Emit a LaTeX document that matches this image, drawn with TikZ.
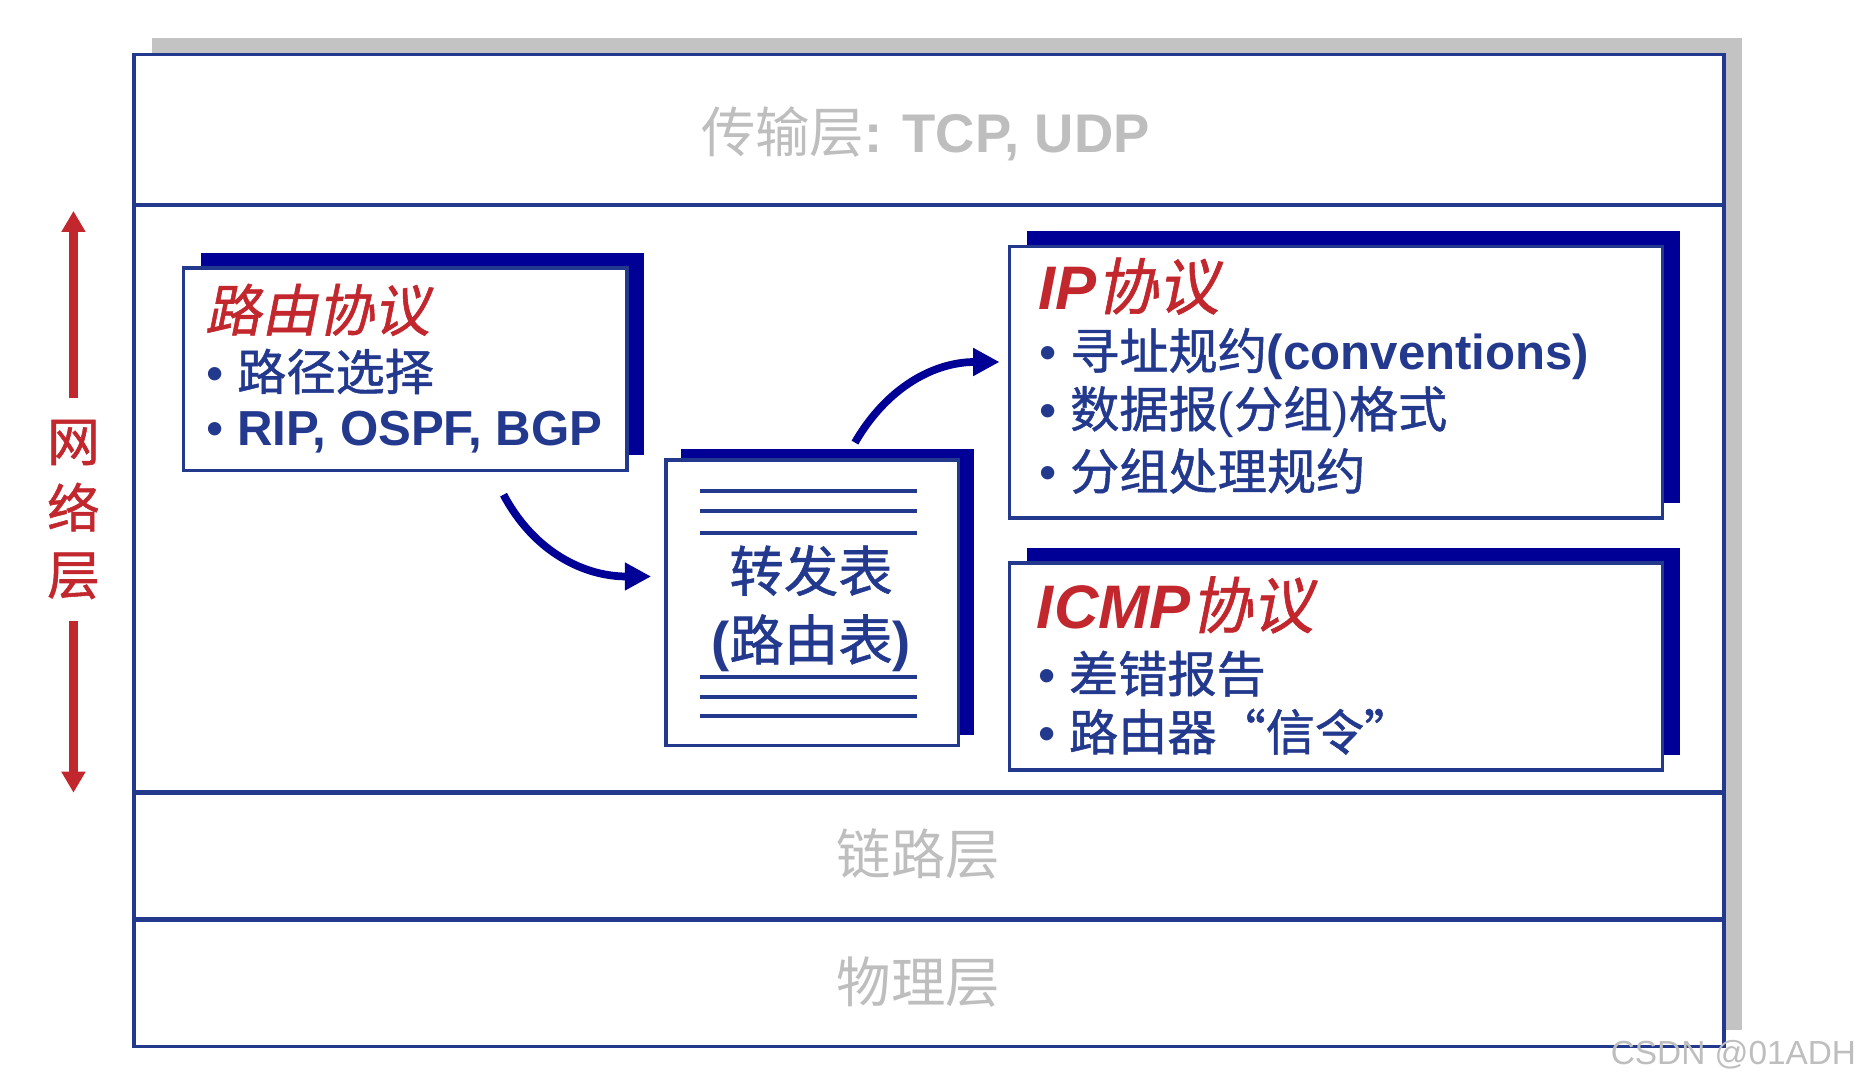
\documentclass[tikz,border=0pt]{standalone}
\usepackage{fontspec}
\setmainfont{Liberation Sans}
\newfontfamily\zh{Noto Sans CJK SC}[FakeBold=1]
\newfontfamily\zhlight{Noto Sans CJK SC}
\newfontfamily\zhit{Noto Sans CJK SC}[FakeSlant=0.2,FakeBold=1]
\usetikzlibrary{arrows.meta,calc,fit,positioning,shadows}
\definecolor{NetNavy}{HTML}{000096}
\definecolor{NetBlue}{HTML}{22398E}
\definecolor{NetRed}{HTML}{C1272D}
\definecolor{NetGray}{HTML}{BEBEBE}
\definecolor{NetShade}{HTML}{C3C3C3}

\begin{document}
\begin{tikzpicture}[
    x=0.01185cm,y=-0.01185cm,
    >={Triangle[width=7.5pt,length=7.5pt]},
    stack/.style={draw=NetBlue,line width=1pt,fill=white,inner sep=0pt,
      drop shadow={shadow xshift=0.178cm,shadow yshift=0.166cm,fill=NetShade,opacity=1}},
    sepline/.style={draw=NetBlue,line width=1.4pt},
    layertxt/.style={font=\fontsize{15.5}{18}\selectfont,text=NetGray},
    card/.style={draw=NetBlue,line width=1pt,fill=white,inner sep=0pt,
      drop shadow={shadow xshift=0.172cm,shadow yshift=0.152cm,fill=NetNavy,opacity=1}},
    sheet/.style={draw=NetBlue,line width=1pt,fill=white,inner sep=0pt,
      drop shadow={shadow xshift=0.154cm,shadow yshift=0.104cm,fill=NetNavy,opacity=1}},
    tabrule/.style={draw=NetBlue,line width=1.2pt},
    boxhead/.style={font=\fontsize{#1}{#1}\selectfont,text=NetRed,inner sep=0pt,anchor=west},
    boxhead/.default=16,
    entry/.style={font=\fontsize{14}{17}\selectfont,text=NetBlue,inner sep=0pt,anchor=west},
    flow/.style={->,line width=2.2pt,draw=NetNavy},
    netarrow/.style={-{Triangle[width=6.5pt,length=6pt]},line width=2.3pt,draw=NetRed},
    netlbl/.style={font=\zh\fontsize{15}{19}\selectfont,text=NetRed,align=center,inner xsep=0pt,inner ysep=6pt},
    wmark/.style={font=\fontsize{9.5}{11}\selectfont,text=NetGray,inner sep=0pt,anchor=east}
  ]
  \useasboundingbox (0,0) rectangle (1568,919);

  % protocol stack
  \node[stack,fit={(113,46) (1455,883)}] (stack) {};
  \draw[sepline] (stack.west |- 0,173) -- (stack.east |- 0,173);
  \draw[sepline] (stack.west |- 0,669) -- (stack.east |- 0,669);
  \draw[sepline] (stack.west |- 0,776) -- (stack.east |- 0,776);
  \node[layertxt] (transport) at (781,113) {{\zhlight 传输层}\textbf{: TCP, UDP}};
  \node[layertxt] (link) at (775,721) {\zhlight 链路层};
  \node[layertxt] (phys) at (775,829) {\zhlight 物理层};

  % network layer marker
  \node[netlbl] (netlabel) at (62,430) {网\\络\\层};
  \coordinate (nettop) at (62,178);
  \coordinate (netbot) at (62,669);
  \draw[netarrow] (netlabel) -- (nettop);
  \draw[netarrow] (netlabel) -- (netbot);

  % routing protocols
  \node[card,fit={(155,226) (529,397)}] (route) {};
  \node[boxhead] (routehead) at ($(route.north west)+(19,37)$) {\zhit 路由协议};
  \node[entry] (routeA) at ($(route.north west)+(20,89)$) {• {\zh 路径选择}};
  \node[entry] (routeB) at ($(route.north west)+(20,140)$) {• \textbf{RIP, OSPF, BGP}};

  % forwarding table
  \node[sheet,fit={(562,388) (809,629)}] (ftable) {};
  \foreach \dy in {28,45,63,185,202,218}
    \draw[tabrule] ($(ftable.north west)+(30,\dy)$) -- ++(183,0);
  \node[entry,anchor=center,align=center,font=\fontsize{15.5}{19.6}\selectfont] (ftext)
    at ($(ftable.center)+(-1,5)$) {{\zh 转发表}\\\textbf{(}{\zh 路由表}\textbf{)}};

  % IP protocol
  \node[card,fit={(852,208) (1403,437)}] (ipbox) {};
  \node[boxhead=17.5] (iphead) at ($(ipbox.north west)+(25,35)$) {\textbf{\textit{IP}}{\zhit 协议}};
  \node[entry] (ipA) at ($(ipbox.north west)+(26,92)$) {• {\zh 寻址规约}\textbf{(conventions)}};
  \node[entry] (ipB) at ($(ipbox.north west)+(26,141)$) {• {\zh 数据报}({\zh 分组}){\zh 格式}};
  \node[entry] (ipC) at ($(ipbox.north west)+(26,191)$) {• {\zh 分组处理规约}};

  % ICMP protocol
  \node[card,fit={(852,475) (1403,650)}] (icmpbox) {};
  \node[boxhead=17.5] (icmphead) at ($(icmpbox.north west)+(24,37)$) {\textbf{\textit{ICMP}}{\zhit 协议}};
  \node[entry] (icmpA) at ($(icmpbox.north west)+(25,95)$) {• {\zh 差错报告}};
  \node[entry] (icmpB) at ($(icmpbox.north west)+(25,144)$) {• {\zh 路由器“信令”}};

  % table flows
  \draw[flow] ($(route.south west)!0.72!(route.south east)+(0,19)$) to[out=-62,in=180] ($(ftable.west)+(-11,-22)$);
  \draw[flow] ($(ftable.north)+(36,-13)$) to[out=60,in=180] ($(ipbox.west)+(-7,-17)$);

  \node[wmark] (csdn) at (1567,890) {CSDN @01ADH};
\end{tikzpicture}
\end{document}
